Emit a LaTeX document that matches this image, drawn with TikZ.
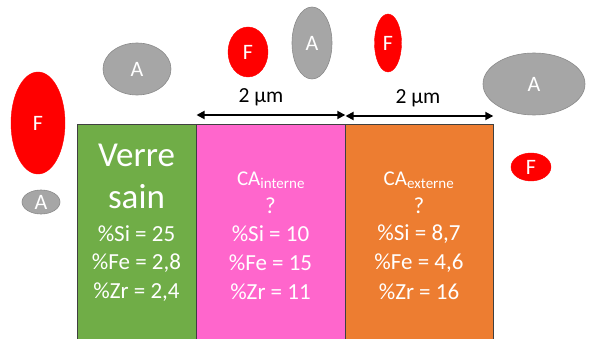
\documentclass[tikz,border=0pt]{standalone}
\usepackage{fontspec}
\setmainfont{Carlito}
\usetikzlibrary{shapes.geometric,arrows.meta}
\definecolor{verre}{HTML}{70AD47}
\definecolor{cain}{HTML}{FF66CC}
\definecolor{caext}{HTML}{ED7D31}
\definecolor{grayA}{HTML}{A6A6A6}
\definecolor{grayAline}{HTML}{8A8A8A}
\definecolor{redF}{HTML}{FF0000}
\definecolor{boxline}{HTML}{404040}
\tikzset{
  layer/.style={draw=boxline, line width=0.8pt, inner sep=0pt, anchor=north west},
  atomA/.style={ellipse, fill=grayA, draw=grayAline, line width=0.6pt, inner sep=0pt, text=white, font=\fontsize{22}{26}\selectfont},
  atomF/.style={ellipse, fill=redF, draw=redF, inner sep=0pt, text=white, font=\fontsize{22}{26}\selectfont},
  lbl/.style={text=white, inner sep=0pt, font=\fontsize{23}{28}\selectfont},
  big/.style={text=white, inner sep=0pt, font=\fontsize{35}{42}\selectfont},
  ca/.style={text=white, inner sep=0pt, font=\fontsize{21}{25}\selectfont},
  qm/.style={text=white, inner sep=0pt, font=\fontsize{23}{28}\selectfont},
  dim/.style={{Triangle[length=8pt,width=8pt]}-{Triangle[length=8pt,width=8pt]}, line width=1.8pt, shorten <=0.5pt, shorten >=0.5pt},
  dimlbl/.style={inner sep=0pt, font=\fontsize{21.5}{25}\selectfont}
}
\begin{document}
\begin{tikzpicture}[x=1pt,y=1pt]
\useasboundingbox (0,0) rectangle (591,-339);
% layers
\node[layer, fill=verre, minimum width=119pt, minimum height=218pt] (green) at (77,-124) {};
\node[layer, fill=cain, minimum width=149pt, minimum height=218pt] (pink) at (196,-124) {};
\node[layer, fill=caext, minimum width=148pt, minimum height=218pt] (orange) at (345,-124) {};
% texts green
\node[big] (v1) at (136.5,-155) {Verre};
\node[big] (v2) at (136.5,-197) {sain};
\node[lbl] (g1) at (136.5,-234) {\%Si = 25};
\node[lbl] (g2) at (136.5,-263) {\%Fe = 2,8};
\node[lbl] (g3) at (136.5,-292) {\%Zr = 2,4};
% texts pink
\node[ca] (p0) at (271,-180) {CA\textsubscript{\fontsize{15}{18}\selectfont interne}};
\node[qm] (p0q) at (270.5,-206) {?};
\node[lbl] (p1) at (270.5,-234) {\%Si = 10};
\node[lbl] (p2) at (270.5,-263) {\%Fe = 15};
\node[lbl] (p3) at (270.5,-292) {\%Zr = 11};
% texts orange
\node[ca] (o0) at (419,-180) {CA\textsubscript{\fontsize{15}{18}\selectfont externe}};
\node[qm] (o0q) at (419,-206) {?};
\node[lbl] (o1) at (419,-234) {\%Si = 8,7};
\node[lbl] (o2) at (419,-263) {\%Fe = 4,6};
\node[lbl] (o3) at (419,-292) {\%Zr = 16};
% dimension arrows
\coordinate (d1a) at ([yshift=9pt]pink.north west);
\coordinate (d1b) at ([yshift=9pt]pink.north east);
\coordinate (d2a) at ([yshift=8pt]orange.north west);
\coordinate (d2b) at ([yshift=8pt]orange.north east);
\draw[dim] (d1a) -- (d1b);
\draw[dim] (d2a) -- (d2b);
\node[dimlbl] (m1) at (261,-97) {2 µm};
\node[dimlbl] (m2) at (418,-98) {2 µm};
% atoms
\node[atomF, minimum width=54pt, minimum height=102pt] (f1) at (38,-123) {F};
\node[atomA, minimum width=38pt, minimum height=24pt] (a1) at (41,-202) {A};
\node[atomA, minimum width=68pt, minimum height=52pt] (a2) at (137,-69) {A};
\node[atomF, minimum width=40pt, minimum height=50pt] (f2) at (248,-52) {F};
\node[atomA, minimum width=40pt, minimum height=72pt] (a3) at (312,-43) {A};
\node[atomF, minimum width=27pt, minimum height=58pt] (f3) at (388,-43) {F};
\node[atomA, minimum width=102pt, minimum height=62pt] (a4) at (534,-84) {A};
\node[atomF, minimum width=40pt, minimum height=28pt] (f4) at (531,-167) {F};
\end{tikzpicture}
\end{document}
